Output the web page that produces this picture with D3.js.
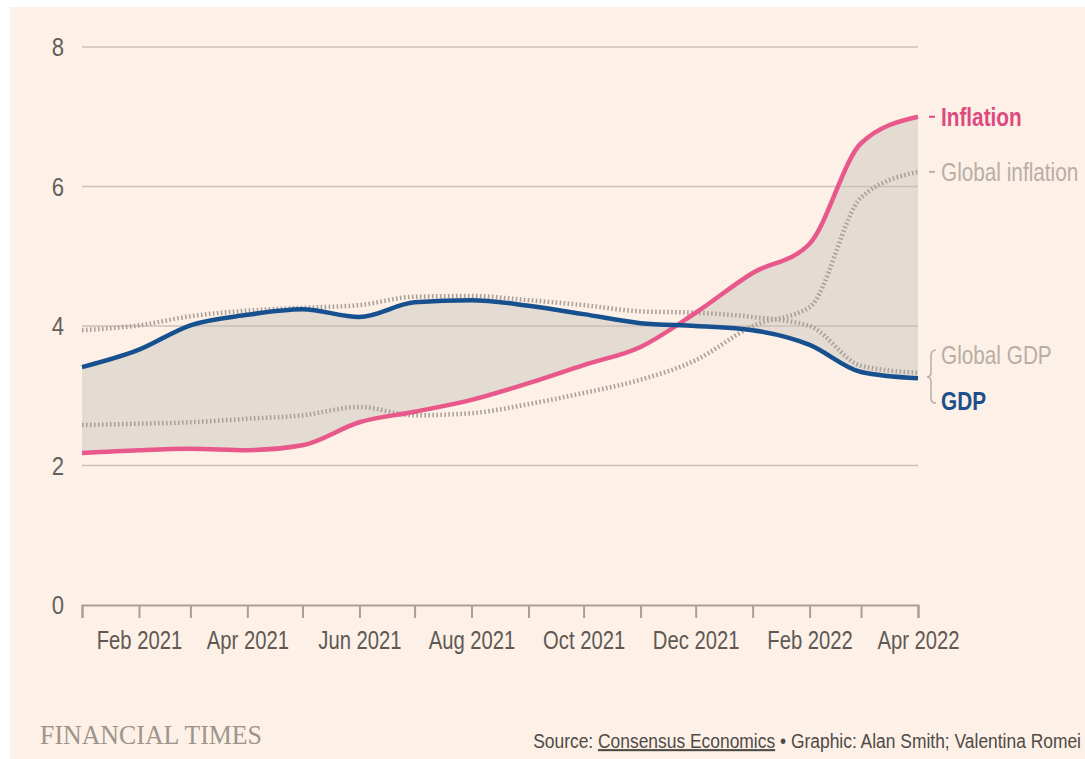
<!DOCTYPE html>
<html>
<head>
<meta charset="utf-8">
<script src="https://cdn.jsdelivr.net/npm/d3@7"></script>
<style>
  body { margin: 0; background: #fff; }
  svg text { font-family: "Liberation Sans", Arial, sans-serif; }
</style>
</head>
<body>
<script>
// monthly consensus forecasts
const months = ['2021-01','2021-02','2021-03','2021-04','2021-05','2021-06','2021-07','2021-08',
                '2021-09','2021-10','2021-11','2021-12','2022-01','2022-02','2022-03','2022-04'];
const gdp = [3.41, 3.66, 4.01, 4.16, 4.24, 4.13, 4.34, 4.37, 4.29, 4.17, 4.04, 4.0, 3.94, 3.73, 3.34, 3.25];
const inflation = [2.18, 2.22, 2.24, 2.22, 2.29, 2.62, 2.77, 2.94, 3.18, 3.44, 3.70, 4.19, 4.76, 5.18, 6.62, 7.0];
const globalGdp = [3.94, 4.01, 4.14, 4.22, 4.26, 4.30, 4.42, 4.43, 4.37, 4.30, 4.21, 4.19, 4.13, 4.0, 3.43, 3.33];
const globalInflation = [2.58, 2.60, 2.62, 2.67, 2.72, 2.84, 2.72, 2.75, 2.88, 3.04, 3.23, 3.51, 4.0, 4.27, 5.84, 6.21];
const yTicks = [0, 2, 4, 6, 8];

const parse = d3.timeParse('%Y-%m');
const data = months.map((m, i) => ({
  date: parse(m), gdp: gdp[i], inf: inflation[i], ggdp: globalGdp[i], ginf: globalInflation[i]
}));

const W = 1085, H = 759;
const svg = d3.select('body').append('svg').attr('width', W).attr('height', H);

// squeeze text horizontally, no condensed font available offline
function narrow(sel, k) {
  sel.each(function() {
    const len = this.getComputedTextLength();
    if (len > 0) {
      d3.select(this).attr('textLength', len * k).attr('lengthAdjust', 'spacingAndGlyphs');
    }
  });
}

svg.append('rect').attr('x', 10).attr('y', 7).attr('width', W - 10).attr('height', H - 7)
  .attr('fill', '#fdf0e6');

const x = d3.scaleTime().domain([data[0].date, data[data.length - 1].date]).range([82, 918]);
const y = d3.scaleLinear().domain([0, 8]).range([605, 47]);

// shaded gap between GDP and inflation
const area = d3.area()
  .curve(d3.curveMonotoneX)
  .x(d => x(d.date))
  .y0(d => y(d.gdp))
  .y1(d => y(d.inf));
svg.append('path').datum(data).attr('d', area).attr('fill', '#e4dcd3');

// gridlines
svg.append('g').selectAll('line')
  .data(yTicks.filter(t => t > 0))
  .enter().append('line')
  .attr('x1', 82).attr('x2', 918)
  .attr('y1', d => y(d)).attr('y2', d => y(d))
  .attr('stroke', '#cbc1b8').attr('stroke-width', 1.5);

// y labels
svg.append('g').selectAll('text')
  .data(yTicks)
  .enter().append('text')
  .attr('x', 64).attr('y', d => y(d)).attr('dy', '0.36em')
  .attr('text-anchor', 'end')
  .attr('font-size', 26).attr('fill', '#66605b')
  .text(d => d)
  .call(narrow, 0.85);

// x axis
const fmt = d3.timeFormat('%b %Y');
const xAxis = d3.axisBottom(x)
  .ticks(d3.timeMonth.every(1))
  .tickSize(13)
  .tickPadding(13)
  .tickFormat(d => d.getMonth() % 2 === 1 ? fmt(d) : '');
const gx = svg.append('g').attr('transform', 'translate(0,' + y(0) + ')').call(xAxis);
gx.select('.domain').attr('stroke', '#a99f97').attr('stroke-width', 2);
gx.selectAll('.tick line').attr('stroke', '#a99f97').attr('stroke-width', 2);
gx.selectAll('.tick text')
  .attr('font-size', 25).attr('fill', '#5f5955')
  .attr('font-family', null)
  .call(narrow, 0.81);

// lines
const line = key => d3.line().curve(d3.curveMonotoneX).x(d => x(d.date)).y(d => y(d[key]));

svg.append('path').datum(data).attr('d', line('ginf'))
  .attr('fill', 'none').attr('stroke', '#aaa19a').attr('stroke-width', 4.5)
  .attr('stroke-dasharray', '1.6 2.4');
svg.append('path').datum(data).attr('d', line('ggdp'))
  .attr('fill', 'none').attr('stroke', '#aaa19a').attr('stroke-width', 4.5)
  .attr('stroke-dasharray', '1.6 2.4');
svg.append('path').datum(data).attr('d', line('inf'))
  .attr('fill', 'none').attr('stroke', '#e8588b').attr('stroke-width', 4.5);
svg.append('path').datum(data).attr('d', line('gdp'))
  .attr('fill', 'none').attr('stroke', '#17508f').attr('stroke-width', 4.5);

// labels on the right
const last = data[data.length - 1];
const labels = [
  { text: 'Inflation', yv: y(last.inf), color: '#dd4a80', weight: 'bold', dash: true },
  { text: 'Global inflation', yv: y(last.ginf), color: '#b8aea6', weight: 'normal', dash: true },
  { text: 'Global GDP', yv: 355, color: '#b8aea6', weight: 'normal', dash: false },
  { text: 'GDP', yv: 401, color: '#1d4f8c', weight: 'bold', dash: false }
];
svg.append('g').selectAll('line')
  .data(labels.filter(d => d.dash))
  .enter().append('line')
  .attr('x1', 929).attr('x2', 935)
  .attr('y1', d => d.yv).attr('y2', d => d.yv)
  .attr('stroke', d => d.color).attr('stroke-width', 2);
svg.append('g').selectAll('text')
  .data(labels)
  .enter().append('text')
  .attr('x', 941).attr('y', d => d.yv).attr('dy', '0.36em')
  .attr('font-size', 25).attr('font-weight', d => d.weight)
  .attr('fill', d => d.color)
  .text(d => d.text)
  .call(narrow, 0.83);

// brace for GDP pair
svg.append('path')
  .attr('d', 'M936,350 Q931,350 931,356 L931,372 Q931,377 927,377 Q931,377 931,382 L931,398 Q931,403 936,403')
  .attr('fill', 'none').attr('stroke', '#b8aea6').attr('stroke-width', 1.5);

// footer
svg.append('text')
  .attr('x', 40).attr('y', 744)
  .style('font-family', '"Liberation Serif", "DejaVu Serif", serif')
  .attr('font-size', 27).attr('fill', '#9d948c')
  .attr('textLength', 222).attr('lengthAdjust', 'spacingAndGlyphs')
  .text('FINANCIAL TIMES');

const src = svg.append('g')
  .attr('transform', 'translate(1081,748) scale(0.83,1)')
  .append('text')
  .attr('x', 0).attr('y', 0).attr('text-anchor', 'end')
  .attr('font-size', 21).attr('fill', '#4f4a46');
src.append('tspan').text('Source: ');
src.append('tspan').attr('text-decoration', 'underline').text('Consensus Economics');
src.append('tspan').text(' \u2022 Graphic: Alan Smith; Valentina Romei');
</script>
</body>
</html>
